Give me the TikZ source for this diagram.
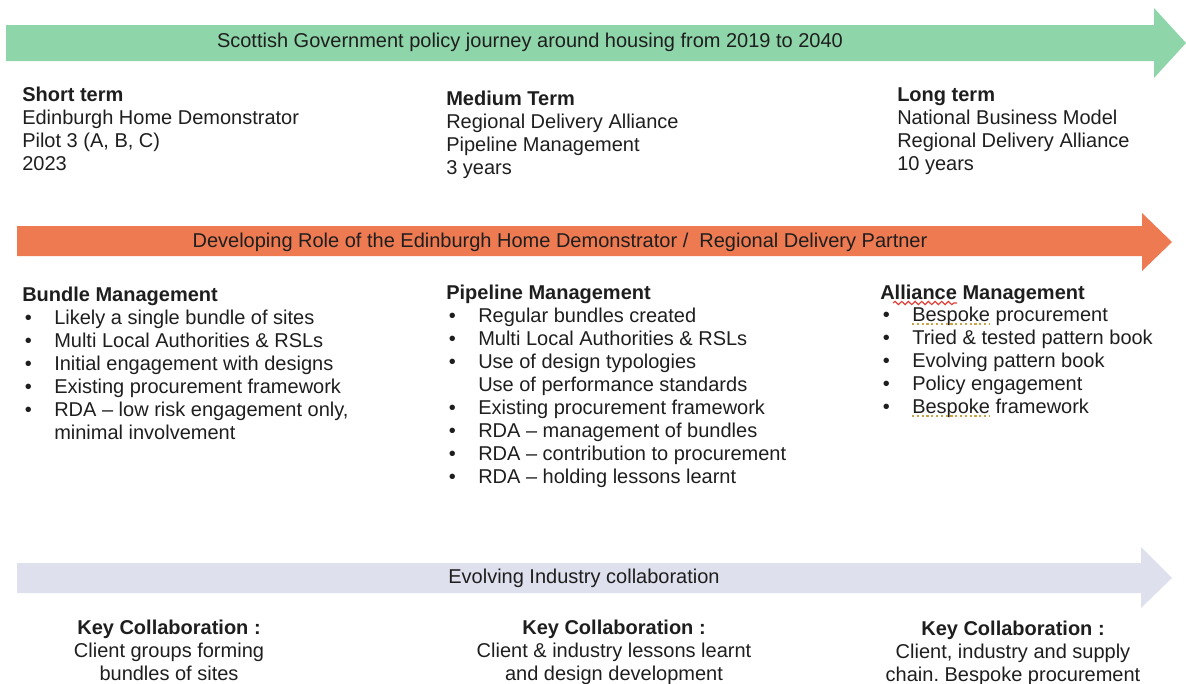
\documentclass[tikz,border=0pt]{standalone}
\usepackage{fontspec}
\setmainfont{Liberation Sans}
\usetikzlibrary{calc,decorations.pathmorphing}
\definecolor{bandgreen}{HTML}{8FD5AA}
\definecolor{bandorange}{HTML}{EE7A52}
\definecolor{bandlilac}{HTML}{DFE0EE}
\definecolor{inktext}{HTML}{1E1E1E}
\definecolor{spellred}{HTML}{E0403A}
\definecolor{spellgold}{HTML}{C9A24A}
\newcommand{\bul}{\makebox[24pt][l]{\hspace{2pt}\textbullet}}
\newcommand{\cnt}{\hspace*{24pt}}
\begin{document}
\begin{tikzpicture}[x=0.75pt,y=-0.75pt]
\tikzstyle{txt}=[inner sep=0pt,text=inktext,font=\fontsize{15pt}{17.25pt}\selectfont]
\tikzstyle{col}=[txt,anchor=base west,align=left]
\tikzstyle{kc}=[txt,anchor=base,align=center]
\useasboundingbox (0,0) rectangle (1186,683);
% the three banner arrows
\fill[bandgreen] (6,25) -- (1154,25) -- (1154,8) -- (1186,43) -- (1154,78) -- (1154,61) -- (6,61) -- cycle;
\fill[bandorange] (17,226) -- (1142,226) -- (1142,213) -- (1172,242) -- (1142,271) -- (1142,256) -- (17,256) -- cycle;
\fill[bandlilac] (17,563) -- (1141,563) -- (1141,547) -- (1172,578) -- (1141,608) -- (1141,593) -- (17,593) -- cycle;
\node[txt,anchor=base] (g) at (530,47) {Scottish Government policy journey around housing from 2019 to 2040};
\node[txt,anchor=base] (o) at (560,247) {Developing Role of the Edinburgh Home Demonstrator /\ \ Regional Delivery Partner};
\node[txt,anchor=base] (l) at (584,583) {Evolving Industry collaboration};
% terms (base = last line)
\node[col] (st) at (22,170) {\textbf{Short term}\\Edinburgh Home Demonstrator\\Pilot 3 (A, B, C)\\2023};
\node[col] (mt) at (446,174) {\textbf{Medium Term}\\Regional Delivery Alliance\\Pipeline Management\\3 years};
\node[col] (lt) at (897,170) {\textbf{Long term}\\National Business Model\\Regional Delivery Alliance\\10 years};
% roles
\node[col] (bm) at (22,301) {\textbf{Bundle Management}};
\node[col] (bml) at (22,439) {\bul Likely a single bundle of sites\\\bul Multi Local Authorities \& RSLs\\\bul Initial engagement with designs\\\bul Existing procurement framework\\\bul RDA -- low risk engagement only,\\\cnt minimal involvement};
\node[col] (pm) at (446,299) {\textbf{Pipeline Management}};
\node[col] (pml) at (446,483) {\bul Regular bundles created\\\bul Multi Local Authorities \& RSLs\\\bul Use of design typologies\\\cnt Use of performance standards\\\bul Existing procurement framework\\\bul RDA -- management of bundles\\\bul RDA -- contribution to procurement\\\bul RDA -- holding lessons learnt};
\node[col] (am) at (880,299) {\textbf{Alliance Management}};
\node[col] (aml) at (880,413) {\bul Bespoke procurement\\\bul Tried \& tested pattern book\\\bul Evolving pattern book\\\bul Policy engagement\\\bul Bespoke framework};
\draw[spellred,line width=0.9pt,decorate,decoration={snake,segment length=5,amplitude=1.2}] ($(am.base west)+(13,4)$) -- ++(64,0);
\draw[spellgold,line width=1.6pt,dotted] ($(aml.base west)+(32,-89)$) -- ++(77,0);
\draw[spellgold,line width=1.6pt,dotted] ($(aml.base west)+(32,3)$) -- ++(77,0);
% collaboration
\node[kc] (k1) at (169,680) {\textbf{Key Collaboration :}\\Client groups forming\\bundles of sites};
\node[kc] (k2) at (614,680) {\textbf{Key Collaboration :}\\Client \& industry lessons learnt\\and design development};
\node[kc] (k3) at (1013,681) {\textbf{Key Collaboration :}\\Client, industry and supply\\chain.\ Bespoke procurement};
\end{tikzpicture}
\end{document}
